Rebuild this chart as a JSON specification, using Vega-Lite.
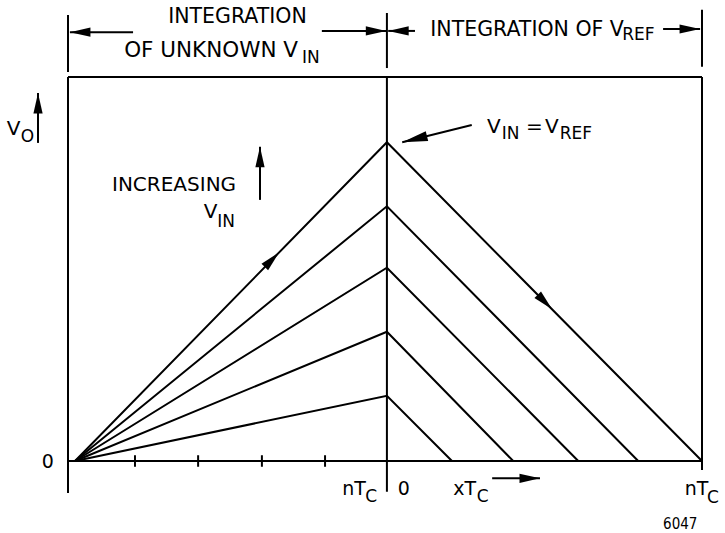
{
  "$schema": "https://vega.github.io/schema/vega-lite/v6.json",
  "description": "Dual-slope integrator output: ramp up during integration of the unknown input for nTc, ramp down at the reference slope for xTc.",
  "width": 634,
  "height": 384,
  "autosize": {"type": "none"},
  "padding": {"left": 68, "top": 77, "right": 23, "bottom": 72},
  "background": "white",
  "config": {"view": {"stroke": null}, "text": {"font": "DejaVu Sans", "color": "black"}},
  "datasets": {
    "ramps": [
      {"level": 1, "t": 0.11, "v": 0}, {"level": 1, "t": 5, "v": 1.02}, {"level": 1, "t": 6.02, "v": 0},
      {"level": 2, "t": 0.11, "v": 0}, {"level": 2, "t": 5, "v": 2.02}, {"level": 2, "t": 6.98, "v": 0},
      {"level": 3, "t": 0.11, "v": 0}, {"level": 3, "t": 5, "v": 3.02}, {"level": 3, "t": 8.0, "v": 0},
      {"level": 4, "t": 0.11, "v": 0}, {"level": 4, "t": 5, "v": 3.98}, {"level": 4, "t": 8.94, "v": 0},
      {"level": 5, "t": 0.11, "v": 0}, {"level": 5, "t": 5, "v": 4.98}, {"level": 5, "t": 9.94, "v": 0}
    ],
    "segments": [
      {"part": "bracket left", "t": 0, "v": 6.97, "t2": 0, "v2": 6.08},
      {"part": "bracket mid", "t": 5, "v": 7.0, "t2": 5, "v2": 6.14},
      {"part": "bracket right", "t": 9.94, "v": 7.05, "t2": 9.94, "v2": 6.16},
      {"part": "frame left", "t": 0, "v": 6, "t2": 0, "v2": -0.5},
      {"part": "frame mid", "t": 5, "v": 6, "t2": 5, "v2": -0.48},
      {"part": "frame right", "t": 9.94, "v": 6, "t2": 9.94, "v2": -0.14},
      {"part": "frame top", "t": 0, "v": 6, "t2": 9.94, "v2": 6},
      {"part": "baseline", "t": 0, "v": 0, "t2": 9.94, "v2": 0},
      {"part": "tick", "t": 1.05, "v": 0.09, "t2": 1.05, "v2": -0.09},
      {"part": "tick", "t": 2.04, "v": 0.09, "t2": 2.04, "v2": -0.09},
      {"part": "tick", "t": 3.04, "v": 0.09, "t2": 3.04, "v2": -0.09},
      {"part": "tick", "t": 4.03, "v": 0.09, "t2": 4.03, "v2": -0.09},
      {"part": "shaft", "t": 1.02, "v": 6.70, "t2": 0.03, "v2": 6.70},
      {"part": "shaft", "t": 3.98, "v": 6.72, "t2": 4.99, "v2": 6.72},
      {"part": "shaft", "t": 5.44, "v": 6.72, "t2": 5.02, "v2": 6.72},
      {"part": "shaft", "t": 9.33, "v": 6.75, "t2": 9.91, "v2": 6.75},
      {"part": "shaft", "t": -0.47, "v": 4.97, "t2": -0.47, "v2": 5.75},
      {"part": "shaft", "t": 3.01, "v": 4.08, "t2": 3.01, "v2": 4.91},
      {"part": "shaft", "t": 6.33, "v": 5.25, "t2": 5.24, "v2": 4.98},
      {"part": "shaft", "t": 6.65, "v": -0.27, "t2": 7.40, "v2": -0.27}
    ],
    "heads": [
      {"heading": "left", "t": 0.03, "v": 6.70},
      {"heading": "left", "t": 5.02, "v": 6.72},
      {"heading": "right", "t": 4.99, "v": 6.72},
      {"heading": "right", "t": 9.91, "v": 6.75},
      {"heading": "right", "t": 7.40, "v": -0.27},
      {"heading": "up", "t": -0.47, "v": 5.75},
      {"heading": "up", "t": 3.01, "v": 4.91},
      {"heading": "rise", "t": 3.31, "v": 3.26},
      {"heading": "fall", "t": 7.59, "v": 2.37},
      {"heading": "pointer", "t": 5.24, "v": 4.98}
    ],
    "labels": [
      {"t": -0.96, "v": 5.09, "text": "V"},
      {"t": 0.69, "v": 4.22, "text": "INCREASING"},
      {"t": 2.13, "v": 3.80, "text": "V"},
      {"t": 6.57, "v": 5.13, "text": "V"},
      {"t": 7.18, "v": 5.13, "text": "="},
      {"t": 7.48, "v": 5.13, "text": "V"}
    ],
    "wideLabels": [
      {"t": 0.88, "v": 6.31, "text": "OF UNKNOWN V"}
    ],
    "bigLabels": [
      {"t": 1.57, "v": 6.84, "text": "INTEGRATION"},
      {"t": 5.68, "v": 6.64, "text": "INTEGRATION OF V"}
    ],
    "subscripts": [
      {"t": 3.67, "v": 6.22, "text": "IN"},
      {"t": 8.69, "v": 6.58, "text": "REF"},
      {"t": -0.74, "v": 4.98, "text": "O"},
      {"t": 2.34, "v": 3.66, "text": "IN"},
      {"t": 6.80, "v": 5.03, "text": "IN"},
      {"t": 7.71, "v": 5.03, "text": "REF"},
      {"t": 4.66, "v": -0.64, "text": "C"},
      {"t": 6.41, "v": -0.64, "text": "C"},
      {"t": 10.02, "v": -0.66, "text": "C"}
    ],
    "axisLabels": [
      {"t": -0.41, "v": -0.11, "text": "0"},
      {"t": 4.30, "v": -0.53, "text": "nT"},
      {"t": 5.17, "v": -0.53, "text": "0"},
      {"t": 6.04, "v": -0.53, "text": "xT"},
      {"t": 9.67, "v": -0.53, "text": "nT"}
    ],
    "figureNumber": [
      {"t": 9.33, "v": -1.06, "text": "6047"}
    ]
  },
  "encoding": {
    "x": {"field": "t", "type": "quantitative", "scale": {"domain": [0, 9.94], "nice": false, "zero": false}, "axis": null},
    "y": {"field": "v", "type": "quantitative", "scale": {"domain": [0, 6], "nice": false, "zero": false}, "axis": null}
  },
  "layer": [
    {
      "data": {"name": "ramps"},
      "mark": {"type": "line", "color": "black", "strokeWidth": 2, "strokeJoin": "miter"},
      "encoding": {"detail": {"field": "level", "type": "nominal"}, "order": {"field": "t", "type": "quantitative"}}
    },
    {
      "data": {"name": "segments"},
      "mark": {"type": "rule", "color": "black", "strokeWidth": 2},
      "encoding": {"x2": {"field": "t2"}, "y2": {"field": "v2"}}
    },
    {
      "data": {"name": "heads"},
      "transform": [{"filter": "datum.heading === 'up'"}],
      "mark": {"type": "point", "shape": "M0,0L0.45,2L-0.45,2Z", "size": 420, "filled": true, "color": "black", "opacity": 1, "angle": 0}
    },
    {
      "data": {"name": "heads"},
      "transform": [{"filter": "datum.heading === 'right'"}],
      "mark": {"type": "point", "shape": "M0,0L0.45,2L-0.45,2Z", "size": 420, "filled": true, "color": "black", "opacity": 1, "angle": 90}
    },
    {
      "data": {"name": "heads"},
      "transform": [{"filter": "datum.heading === 'left'"}],
      "mark": {"type": "point", "shape": "M0,0L0.45,2L-0.45,2Z", "size": 420, "filled": true, "color": "black", "opacity": 1, "angle": 270}
    },
    {
      "data": {"name": "heads"},
      "transform": [{"filter": "datum.heading === 'rise'"}],
      "mark": {"type": "point", "shape": "M0,0L0.45,2L-0.45,2Z", "size": 420, "filled": true, "color": "black", "opacity": 1, "angle": 44.3}
    },
    {
      "data": {"name": "heads"},
      "transform": [{"filter": "datum.heading === 'fall'"}],
      "mark": {"type": "point", "shape": "M0,0L0.45,2L-0.45,2Z", "size": 420, "filled": true, "color": "black", "opacity": 1, "angle": 135.5}
    },
    {
      "data": {"name": "heads"},
      "transform": [{"filter": "datum.heading === 'pointer'"}],
      "mark": {"type": "point", "shape": "M0,0L0.4,2L-0.4,2Z", "size": 650, "filled": true, "color": "black", "opacity": 1, "angle": 256}
    },
    {
      "data": {"name": "labels"},
      "mark": {"type": "text", "align": "left", "baseline": "alphabetic", "fontSize": 20},
      "encoding": {"text": {"field": "text"}}
    },
    {
      "data": {"name": "wideLabels"},
      "mark": {"type": "text", "align": "left", "baseline": "alphabetic", "fontSize": 21.5},
      "encoding": {"text": {"field": "text"}}
    },
    {
      "data": {"name": "bigLabels"},
      "mark": {"type": "text", "align": "left", "baseline": "alphabetic", "fontSize": 20.5},
      "encoding": {"text": {"field": "text"}}
    },
    {
      "data": {"name": "subscripts"},
      "mark": {"type": "text", "align": "left", "baseline": "alphabetic", "fontSize": 17},
      "encoding": {"text": {"field": "text"}}
    },
    {
      "data": {"name": "axisLabels"},
      "mark": {"type": "text", "align": "left", "baseline": "alphabetic", "fontSize": 19},
      "encoding": {"text": {"field": "text"}}
    },
    {
      "data": {"name": "figureNumber"},
      "mark": {"type": "text", "align": "left", "baseline": "alphabetic", "fontSize": 15, "font": "DejaVu Sans Condensed"},
      "encoding": {"text": {"field": "text"}}
    }
  ]
}
